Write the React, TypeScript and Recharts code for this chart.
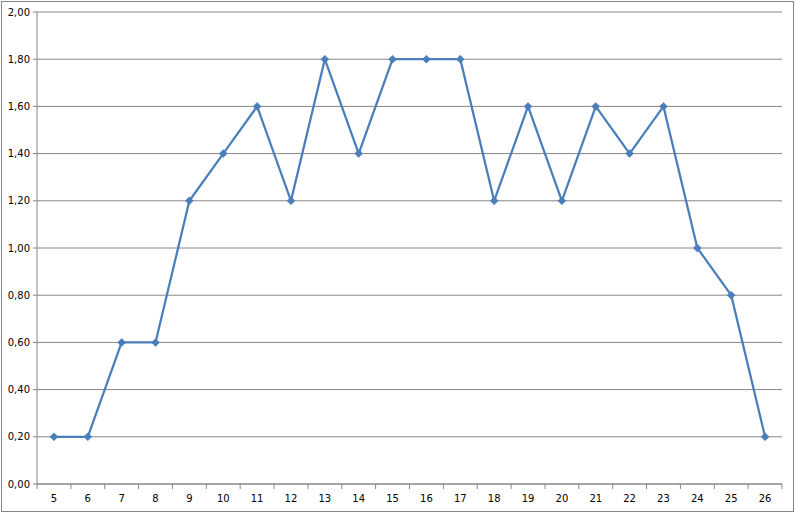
import React from "react"
import { CartesianGrid, Line, LineChart, XAxis, YAxis } from "recharts"

const categories = ["5", "6", "7", "8", "9", "10", "11", "12", "13", "14", "15", "16", "17", "18", "19", "20", "21", "22", "23", "24", "25", "26"]
const values = [0.2, 0.2, 0.6, 0.6, 1.2, 1.4, 1.6, 1.2, 1.8, 1.4, 1.8, 1.8, 1.8, 1.2, 1.6, 1.2, 1.6, 1.4, 1.6, 1.0, 0.8, 0.2]
const yTicks = [0, 0.2, 0.4, 0.6, 0.8, 1.0, 1.2, 1.4, 1.6, 1.8, 2.0]

const data = categories.map((label, i) => ({ label, value: values[i] }))

const lineColor = "#4a7ebb"
const axisColor = "#868686"
const fontFamily = "'DejaVu Sans', Verdana, sans-serif"

const chartWidth = 795
const chartHeight = 514
const margin = { top: 12, right: 13, left: 0, bottom: 0 }
const xAxisHeight = 30
const yAxisWidth = 37
const plotWidth = chartWidth - margin.left - margin.right - yAxisWidth
const step = plotWidth / categories.length

function Diamond(props: any) {
  const { cx, cy } = props
  if (cx == null || cy == null) return null
  const r = 4
  return (
    <path
      d={`M${cx},${cy - r} L${cx + r},${cy} L${cx},${cy + r} L${cx - r},${cy} Z`}
      fill={lineColor}
      stroke={lineColor}
      strokeWidth={0.5}
    />
  )
}

function CategoryTick(props: any) {
  const { x, y, payload, index } = props
  const left = x - step / 2
  const right = x + step / 2
  const isLast = index === categories.length - 1
  return (
    <g>
      <line x1={left} y1={y} x2={left} y2={y + 5} stroke={axisColor} />
      {isLast && <line x1={right} y1={y} x2={right} y2={y + 5} stroke={axisColor} />}
      <text x={x} y={y + 18} textAnchor="middle" fontSize={10} fontFamily={fontFamily} fill="#000">
        {payload.value}
      </text>
    </g>
  )
}

export default function App() {
  return (
    <div style={{ position: "absolute", left: 0, top: 0, width: chartWidth, height: chartHeight, background: "#fff" }}>
      <div
        style={{
          position: "absolute",
          left: 1,
          top: 1,
          width: 793,
          height: 511,
          boxSizing: "border-box",
          border: `1px solid ${axisColor}`,
        }}
      />
      <div style={{ position: "absolute", left: 0, top: 0 }}>
        <LineChart width={chartWidth} height={chartHeight} data={data} margin={margin}>
          <CartesianGrid vertical={false} stroke={axisColor} strokeWidth={1} />
          <XAxis
            dataKey="label"
            interval={0}
            padding={{ left: step / 2, right: step / 2 }}
            stroke={axisColor}
            tickLine={false}
            tickSize={0}
            tickMargin={0}
            height={xAxisHeight}
            tick={<CategoryTick />}
          />
          <YAxis
            domain={[0, 2]}
            ticks={yTicks}
            interval={0}
            width={yAxisWidth}
            stroke={axisColor}
            tickSize={4}
            tickMargin={3}
            tick={{ fontSize: 10, fontFamily, fill: "#000" }}
            tickFormatter={(v: number) => v.toFixed(2).replace(".", ",")}
          />
          <Line
            type="linear"
            dataKey="value"
            stroke={lineColor}
            strokeWidth={2.25}
            dot={<Diamond />}
            activeDot={false}
            isAnimationActive={false}
          />
        </LineChart>
      </div>
    </div>
  )
}
